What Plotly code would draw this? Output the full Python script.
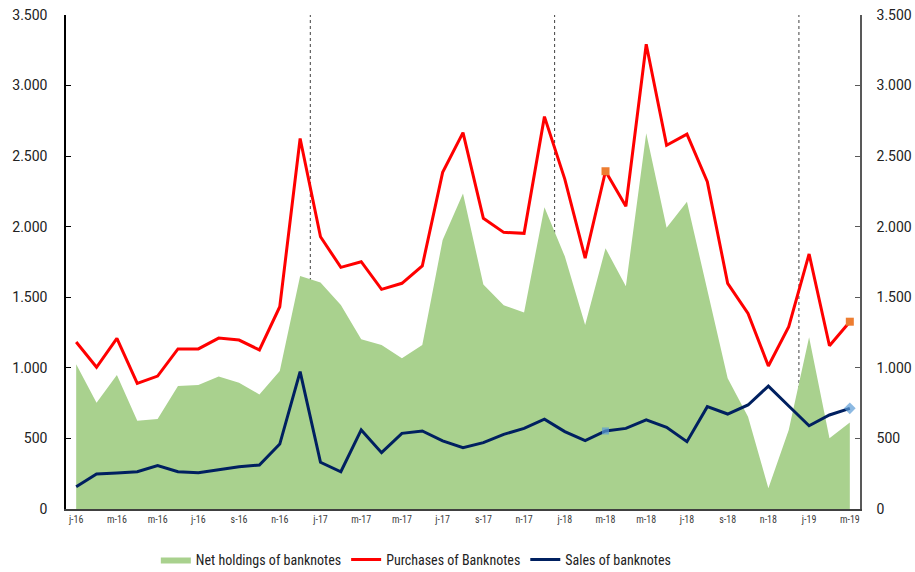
import plotly.graph_objects as go

# Monthly data, Jan 2016 .. Mar 2019
months = ["Jan-16","Feb-16","Mar-16","Apr-16","May-16","Jun-16","Jul-16","Aug-16","Sep-16","Oct-16","Nov-16","Dec-16",
          "Jan-17","Feb-17","Mar-17","Apr-17","May-17","Jun-17","Jul-17","Aug-17","Sep-17","Oct-17","Nov-17","Dec-17",
          "Jan-18","Feb-18","Mar-18","Apr-18","May-18","Jun-18","Jul-18","Aug-18","Sep-18","Oct-18","Nov-18","Dec-18",
          "Jan-19","Feb-19","Mar-19"]

net_holdings = [1025, 753, 949, 626, 638, 871, 879, 938, 895, 812, 978, 1651,
                1604, 1445, 1202, 1162, 1068, 1162, 1906, 2235, 1590, 1443, 1392, 2138,
                1790, 1304, 1847, 1578, 2662, 1993, 2177, 1552, 926, 654, 147, 560,
                1217, 501, 612]

purchases = [1183, 1004, 1209, 890, 942, 1134, 1134, 1211, 1197, 1127, 1433, 2625,
             1929, 1712, 1752, 1556, 1599, 1722, 2385, 2667, 2060, 1960, 1953, 2780,
             2337, 1778, 2393, 2145, 3293, 2577, 2656, 2319, 1599, 1386, 1013, 1292,
             1807, 1157, 1327]

sales = [158, 248, 255, 264, 307, 264, 257, 276, 300, 312, 460, 973,
         331, 264, 560, 399, 536, 553, 482, 435, 470, 529, 571, 636,
         548, 484, 553, 571, 631, 579, 477, 725, 673, 737, 871, 730,
         590, 666, 713]

tick_labels = ["j-16","m-16","m-16","j-16","s-16","n-16","j-17","m-17","m-17","j-17",
               "s-17","n-17","j-18","m-18","m-18","j-18","s-18","n-18","j-19","m-19"]

highlight_idx = [26, 38]
year_breaks = [11.5, 23.5, 35.5]

x = list(range(len(months)))

GREEN = "#A9D18E"
RED = "#FF0000"
NAVY = "#002060"
ORANGE = "#ED7D31"
LBLUE = "#5B9BD5"

NARROW = "Roboto Condensed, Liberation Sans Narrow, Roboto"

fig = go.Figure()

fig.add_trace(go.Scatter(
    x=x, y=net_holdings, name="Net holdings of banknotes",
    mode="lines", line=dict(width=0, color=GREEN),
    fill="tozeroy", fillcolor=GREEN, hoverinfo="skip"))

fig.add_trace(go.Scatter(
    x=x, y=purchases, name="Purchases of Banknotes",
    mode="lines", line=dict(width=3, color=RED)))

fig.add_trace(go.Scatter(
    x=x, y=sales, name="Sales of banknotes",
    mode="lines", line=dict(width=3, color=NAVY)))

# highlighted points
fig.add_trace(go.Scatter(
    x=highlight_idx, y=[purchases[i] for i in highlight_idx],
    mode="markers", marker=dict(symbol="square", size=8, color=ORANGE, line=dict(width=0)),
    showlegend=False, hoverinfo="skip"))
fig.add_trace(go.Scatter(
    x=highlight_idx, y=[sales[i] for i in highlight_idx],
    mode="markers", marker=dict(symbol=["square", "diamond"], size=[7, 9], color=LBLUE,
                                line=dict(width=0)),
    showlegend=False, hoverinfo="skip"))

# invisible trace for the right axis
fig.add_trace(go.Scatter(x=[x[0]], y=[0], yaxis="y2", mode="markers",
                         marker=dict(opacity=0), showlegend=False, hoverinfo="skip"))

for xb in year_breaks:
    fig.add_shape(type="line", x0=xb, x1=xb, y0=0, y1=3500, xref="x", yref="y",
                  line=dict(color="#404040", width=1, dash="dot"), layer="below")

tick_font = dict(family="Roboto", size=14, color="#222222")

fig.update_layout(
    width=915, height=572,
    margin=dict(l=66, r=55, t=15, b=63, autoexpand=False),
    paper_bgcolor="white", plot_bgcolor="rgba(0,0,0,0)",
    separators=",.",
    font=dict(family="Roboto", color="#222222"),
    showlegend=True,
    legend=dict(orientation="h", x=0.455, xref="container", xanchor="center",
                y=0.021, yref="container", yanchor="middle",
                font=dict(family=NARROW, size=14, color="#222222"),
                itemwidth=30, tracegroupgap=0),
    xaxis=dict(range=[-0.5, len(months) - 0.5], automargin=False,
               tickvals=x[::2], ticktext=tick_labels,
               showgrid=False, zeroline=False,
               showline=True, linecolor="#404040", linewidth=1.5,
               ticks="", tickfont=dict(family=NARROW, size=10, color="#404040")),
    yaxis=dict(range=[0, 3500], dtick=500, tickformat=",.0f", automargin=False,
               showgrid=False, zeroline=False,
               showline=True, linecolor="#000000", linewidth=1.5,
               ticks="inside", ticklen=5, tickcolor="#000000",
               ticklabelstandoff=14, tickfont=tick_font),
    yaxis2=dict(range=[0, 3500], dtick=500, tickformat=",.0f", automargin=False,
                overlaying="y", side="right",
                showgrid=False, zeroline=False,
                showline=True, linecolor="#595959", linewidth=1.5,
                ticks="inside", ticklen=5, tickcolor="#595959",
                ticklabelstandoff=12, tickfont=tick_font),
)

fig.write_html("out.html")
